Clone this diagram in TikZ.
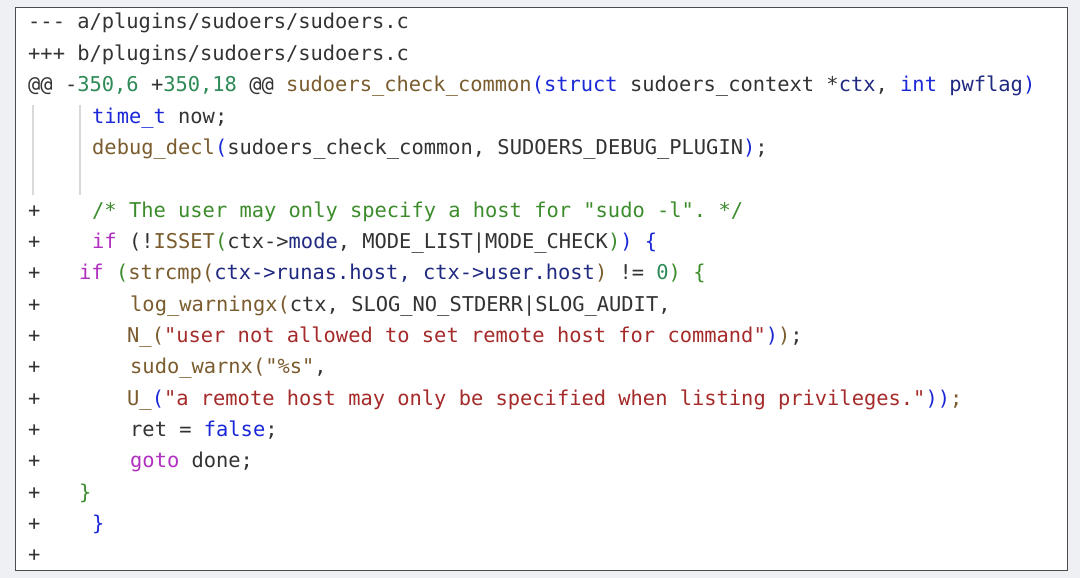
\documentclass[tikz,border=0pt]{standalone}
\usepackage{fontspec}
\setmonofont{DejaVu Sans Mono}
\definecolor{bgc}{HTML}{EEF0F3}
\definecolor{txc}{HTML}{333333}
\definecolor{kwc}{HTML}{1A28D8}
\definecolor{fnc}{HTML}{7A5C2E}
\definecolor{stc}{HTML}{A52A2A}
\definecolor{cmc}{HTML}{3C8C2C}
\definecolor{nvc}{HTML}{1F2A80}
\definecolor{nmc}{HTML}{2E8B57}
\definecolor{ctc}{HTML}{B030C0}
\newcommand{\kw}[1]{\textcolor{kwc}{#1}}
\newcommand{\fn}[1]{\textcolor{fnc}{#1}}
\newcommand{\stx}[1]{\textcolor{stc}{#1}}
\newcommand{\cmx}[1]{\textcolor{cmc}{#1}}
\newcommand{\nv}[1]{\textcolor{nvc}{#1}}
\newcommand{\nm}[1]{\textcolor{nmc}{#1}}
\newcommand{\ct}[1]{\textcolor{ctc}{#1}}
\tikzset{codeline/.style={anchor=base west,inner sep=0pt,text=txc,font=\ttfamily\fontsize{20.4}{24}\selectfont}}
\begin{document}
\begin{tikzpicture}[x=1pt,y=-1pt]
\fill[bgc] (0,0) rectangle (1080,578);
\draw[fill=white,draw=black!70,line width=1pt] (15,8) rectangle (1067,570);
\draw[black!15,line width=1.2pt] (33,105) -- (33,195) (80,105) -- (80,195);
\foreach \i in {7,...,18}{\node[codeline] (p\i) at (28,{22+(\i-1)*31.35+7}) {+};}
\node[codeline] (l1) at (28,29) {-{}-{}- a/plugins/sudoers/sudoers.c};
\node[codeline] (l2) at (28,60.35) {+++ b/plugins/sudoers/sudoers.c};
\node[codeline] (l3) at (28,91.7) {@@ -\nm{350,6} +\nm{350,18} @@ \fn{sudoers\_check\_common}\kw{(struct} sudoers\_context *\nv{ctx}, \kw{int} \nv{pwflag}\kw{)}};
\node[codeline] (l4) at (92,123.05) {\kw{time\_t} now;};
\node[codeline] (l5) at (92,154.4) {\fn{debug\_decl}\kw{(}sudoers\_check\_common, SUDOERS\_DEBUG\_PLUGIN\kw{)};};
\node[codeline] (l7) at (92,217.1) {\cmx{/* The user may only specify a host for "sudo -l". */}};
\node[codeline] (l8) at (92,248.45) {\ct{if} (!\fn{ISSET}\cmx{(}ctx->\nv{mode}, MODE\_LIST|MODE\_CHECK\cmx{)}\kw{)} \kw{\{}};
\node[codeline] (l9) at (79,279.8) {\ct{if} \cmx{(}\fn{strcmp(}\nv{ctx->runas.host, ctx->user.host}\fn{)} != \nm{0}\cmx{)} \cmx{\{}};
\node[codeline] (l10) at (130,311.15) {\fn{log\_warningx(}ctx, SLOG\_NO\_STDERR|SLOG\_AUDIT,};
\node[codeline] (l11) at (127,342.5) {\fn{N\_(}\stx{"user not allowed to set remote host for command"}\kw{)}\fn{)};};
\node[codeline] (l12) at (130,373.85) {\fn{sudo\_warnx("\%s"},};
\node[codeline] (l13) at (127,405.2) {\fn{U\_}\kw{(}\stx{"a remote host may only be specified when listing privileges."}\kw{))}\fn{;}};
\node[codeline] (l14) at (130,436.55) {ret = \kw{false};};
\node[codeline] (l15) at (130,467.9) {\ct{goto} done;};
\node[codeline] (l16) at (79,499.25) {\cmx{\}}};
\node[codeline] (l17) at (92,530.6) {\kw{\}}};
\end{tikzpicture}
\end{document}
